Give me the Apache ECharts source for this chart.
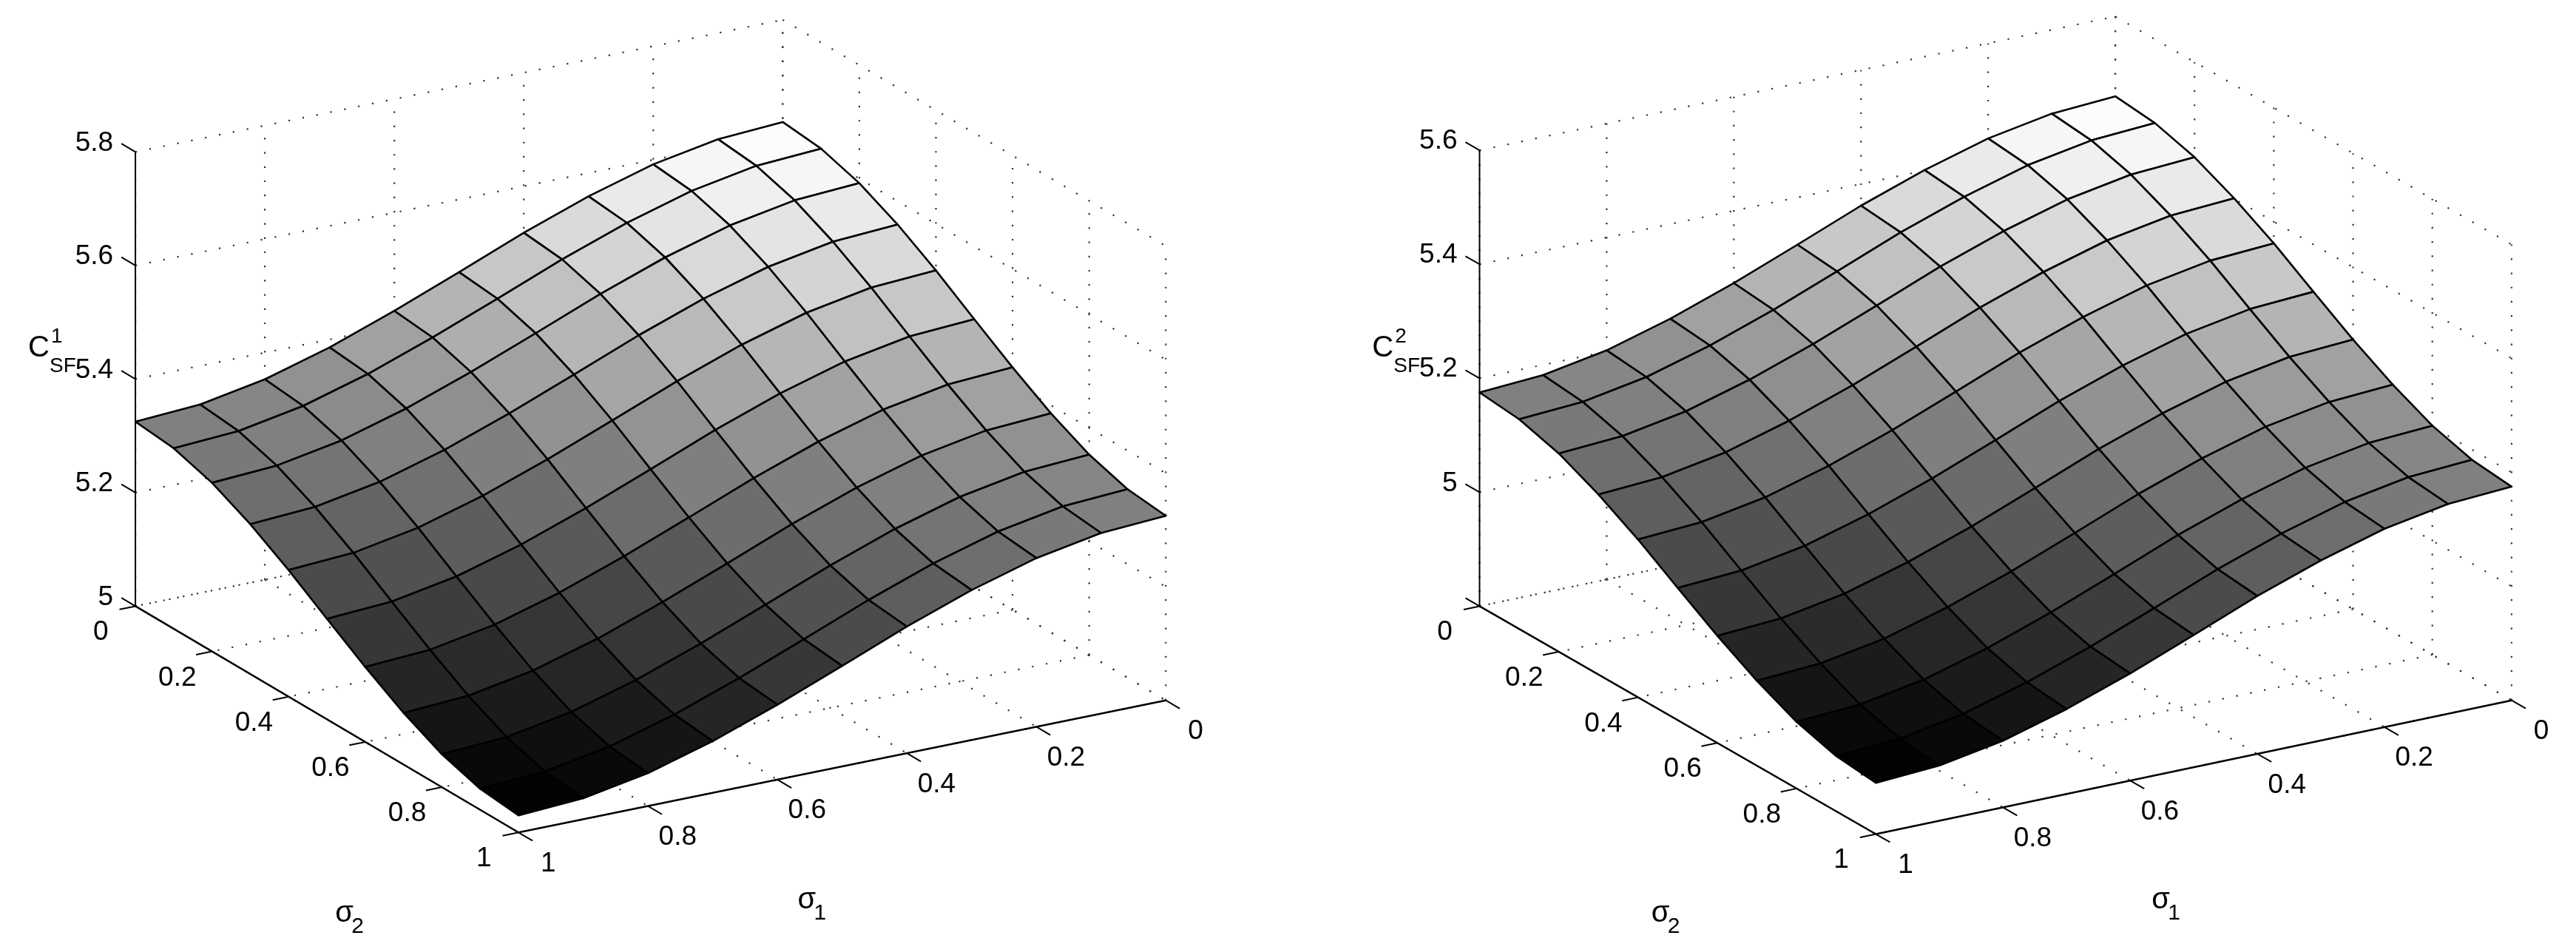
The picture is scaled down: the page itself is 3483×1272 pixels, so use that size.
<!DOCTYPE html>
<html><head><meta charset="utf-8">
<script src="https://cdn.jsdelivr.net/npm/echarts@6/dist/echarts.min.js"></script>
<style>html,body{margin:0;padding:0;background:#fff}#c{width:3483px;height:1272px}</style>
</head><body><div id="c"></div>
<script>
// sigma grid values (σ1 index i = column, σ2 index j = row)
const sigma = [0,0.1,0.2,0.3,0.4,0.5,0.6,0.7,0.8,0.9,1];
const sigmaTicks = [0,0.2,0.4,0.6,0.8,1];
const zTicks1 = [5,5.2,5.4,5.6,5.8];
const zTickLabels1 = ['5','5.2','5.4','5.6','5.8'];
const zTicks2 = [4.8,5,5.2,5.4,5.6];
const zTickLabels2 = ['','5','5.2','5.4','5.6'];
const Z1 = [
[5.620,5.613,5.592,5.559,5.518,5.472,5.427,5.386,5.353,5.332,5.325],
[5.613,5.606,5.585,5.552,5.511,5.465,5.420,5.379,5.346,5.325,5.318],
[5.592,5.585,5.564,5.531,5.490,5.444,5.399,5.358,5.325,5.304,5.297],
[5.559,5.552,5.531,5.498,5.457,5.411,5.366,5.325,5.292,5.271,5.264],
[5.518,5.511,5.490,5.457,5.416,5.370,5.325,5.284,5.251,5.230,5.223],
[5.472,5.465,5.444,5.411,5.370,5.324,5.279,5.238,5.205,5.184,5.177],
[5.427,5.420,5.399,5.366,5.325,5.279,5.234,5.193,5.160,5.139,5.132],
[5.386,5.379,5.358,5.325,5.284,5.238,5.193,5.152,5.119,5.098,5.091],
[5.353,5.346,5.325,5.292,5.251,5.205,5.160,5.119,5.086,5.065,5.058],
[5.332,5.325,5.304,5.271,5.230,5.184,5.139,5.098,5.065,5.044,5.037],
[5.325,5.318,5.297,5.264,5.223,5.177,5.132,5.091,5.058,5.037,5.030]];
const Z2 = [
[5.460,5.453,5.433,5.401,5.362,5.317,5.273,5.234,5.202,5.182,5.175],
[5.453,5.446,5.426,5.394,5.355,5.310,5.266,5.227,5.195,5.175,5.168],
[5.433,5.426,5.406,5.374,5.335,5.290,5.246,5.207,5.175,5.155,5.148],
[5.401,5.394,5.374,5.342,5.303,5.258,5.214,5.175,5.143,5.123,5.116],
[5.362,5.355,5.335,5.303,5.264,5.219,5.175,5.136,5.104,5.084,5.077],
[5.317,5.310,5.290,5.258,5.219,5.174,5.130,5.091,5.059,5.039,5.032],
[5.273,5.266,5.246,5.214,5.175,5.130,5.086,5.047,5.015,4.995,4.988],
[5.234,5.227,5.207,5.175,5.136,5.091,5.047,5.008,4.976,4.956,4.949],
[5.202,5.195,5.175,5.143,5.104,5.059,5.015,4.976,4.944,4.924,4.917],
[5.182,5.175,5.155,5.123,5.084,5.039,4.995,4.956,4.924,4.904,4.897],
[5.175,5.168,5.148,5.116,5.077,5.032,4.988,4.949,4.917,4.897,4.890]];

const K = 3483/1560;
const FONT = 'Liberation Sans';
const P1 = {back:[474,287],u:[-392,80],v:[232,137],zmin:5,zmax:5.8,h:275,Z:Z1,zt:zTicks1,ztl:zTickLabels1,
  s2title:[203,553],s1title:[483,545],ztitle:[17,211],sup:'1'};
const P2 = {back:[1281,286],u:[-385,81],v:[240,138],zmin:4.8,zmax:5.6,h:276,Z:Z2,zt:zTicks2,ztl:zTickLabels2,
  s2title:[1000,553],s1title:[1303,545],ztitle:[831,211],sup:'2'};

function proj(P,s1,s2,z){
  return [K*(P.back[0]+s1*P.u[0]+s2*P.v[0]),
          K*(P.back[1]+s1*P.u[1]+s2*P.v[1]-(z-P.zmin)/(P.zmax-P.zmin)*P.h)];
}
function unit(a){const l=Math.hypot(a[0],a[1]);return [a[0]/l,a[1]/l];}
const dotted = {stroke:'#333',lineWidth:2.2,lineDash:[2.2,17]};
const solid = {stroke:'#000',lineWidth:2.5};
function line(a,b,style){return {type:'line',shape:{x1:a[0],y1:a[1],x2:b[0],y2:b[1]},style:style,silent:true};}
function text(t,p,align,size,vAlign){return {type:'text',x:p[0],y:p[1],style:{text:t,font:size+'px "'+FONT+'"',fill:'#000',align:align,verticalAlign:vAlign||'middle'},silent:true};}

function frameRender(P){
  return function(){
    const ch=[];
    const zl=P.zmin, zh=P.zmax;
    sigmaTicks.forEach(s=>{ch.push(line(proj(P,s,0,zl),proj(P,s,0,zh),dotted));});
    sigmaTicks.forEach(s=>{ch.push(line(proj(P,0,s,zl),proj(P,0,s,zh),dotted));});
    P.zt.forEach(z=>{ch.push(line(proj(P,1,0,z),proj(P,0,0,z),dotted));ch.push(line(proj(P,0,0,z),proj(P,0,1,z),dotted));});
    sigmaTicks.forEach(s=>{ch.push(line(proj(P,s,0,zl),proj(P,s,1,zl),dotted));ch.push(line(proj(P,0,s,zl),proj(P,1,s,zl),dotted));});
    ch.push(line(proj(P,1,0,zl),proj(P,1,1,zl),solid));
    ch.push(line(proj(P,1,1,zl),proj(P,0,1,zl),solid));
    ch.push(line(proj(P,1,0,zl),proj(P,1,0,zh),{stroke:'#000',lineWidth:2}));
    const du=unit(P.u), dv=unit(P.v), TL=22;
    P.zt.forEach((z,i)=>{
      const p=proj(P,1,0,z);
      const e=[p[0]-dv[0]*TL,p[1]-dv[1]*TL];
      ch.push(line(p,e,{stroke:'#000',lineWidth:2}));
      ch.push(text(P.ztl[i],[p[0]-30,p[1]-12],'right',37));
    });
    sigmaTicks.forEach(s=>{
      const a=proj(P,1,s,zl);
      ch.push(line(a,[a[0]+du[0]*TL,a[1]+du[1]*TL],{stroke:'#000',lineWidth:2}));
      ch.push(text(String(s),[a[0]-K*21,a[1]+K*16],'center',37));
      const b=proj(P,s,1,zl);
      ch.push(line(b,[b[0]+dv[0]*TL,b[1]+dv[1]*TL],{stroke:'#000',lineWidth:2}));
      ch.push(text(String(s),[b[0]+K*18,b[1]+K*19],'center',37));
    });
    [[P.s2title,'2'],[P.s1title,'1']].forEach(t=>{
      ch.push(text('σ',[K*t[0][0],K*t[0][1]],'left',40));
      ch.push(text(t[1],[K*t[0][0]+22,K*t[0][1]+18],'left',30));
    });
    const zx=K*P.ztitle[0], zy=K*P.ztitle[1];
    ch.push(text('C',[zx,zy],'left',40));
    ch.push(text(P.sup,[zx+31,zy-16],'left',28));
    ch.push(text('SF',[zx+29,zy+24],'left',28));
    return {type:'group',children:ch};
  };
}
function surfRender(P){
  const Z=P.Z;
  let zmn=Infinity,zmx=-Infinity;Z.forEach(r=>r.forEach(v=>{zmn=Math.min(zmn,v);zmx=Math.max(zmx,v);}));
  return function(params,api){
    const i=api.value(0), j=api.value(1);
    const zs=[Z[j][i],Z[j][i+1],Z[j+1][i+1],Z[j+1][i]];
    const avg=(zs[0]+zs[1]+zs[2]+zs[3])/4;
    const g=Math.round(255*(avg-zmn)/(zmx-zmn));
    const pts=[proj(P,sigma[i],sigma[j],zs[0]),proj(P,sigma[i+1],sigma[j],zs[1]),proj(P,sigma[i+1],sigma[j+1],zs[2]),proj(P,sigma[i],sigma[j+1],zs[3])];
    return {type:'polygon',shape:{points:pts},style:{fill:'rgb('+g+','+g+','+g+')',stroke:'#000',lineWidth:2.6,lineJoin:'round'}};
  };
}
const cells=[];
for(let s=0;s<=18;s++)for(let i=0;i<10;i++){const j=s-i;if(j>=0&&j<10)cells.push([i,j]);}
const chart=echarts.init(document.getElementById('c'));
chart.setOption({animation:false,
  series:[
    {type:'custom',coordinateSystem:'none',data:[[0]],renderItem:frameRender(P1),z:1,silent:true},
    {type:'custom',coordinateSystem:'none',data:cells,renderItem:surfRender(P1),z:2,silent:true},
    {type:'custom',coordinateSystem:'none',data:[[0]],renderItem:frameRender(P2),z:1,silent:true},
    {type:'custom',coordinateSystem:'none',data:cells,renderItem:surfRender(P2),z:2,silent:true}
  ]});
</script></body></html>
